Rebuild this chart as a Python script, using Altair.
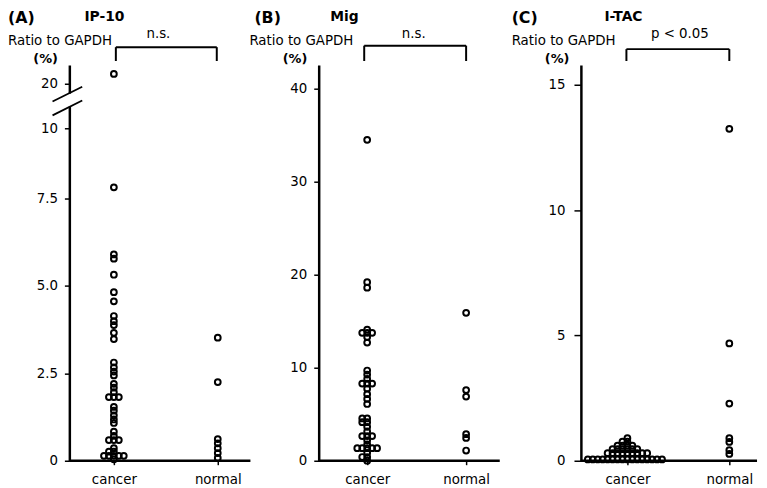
import altair as alt
import numpy as np
import pandas as pd

# ---------------- data ----------------
GROUPS = ["cancer", "normal"]
PANEL_LETTERS = ["(A)", "(B)", "(C)"]
GENES = ["IP-10", "Mig", "I-TAC"]
STATS = ["n.s.", "n.s.", "p < 0.05"]
Y_TITLE = "Ratio to GAPDH"
Y_UNIT = "(%)"

ip10_cancer = [22.2, 7.9, 5.9, 5.78, 5.32, 4.82, 4.56, 4.14, 3.99, 3.88, 3.66, 3.48,
               2.81, 2.67, 2.55, 2.44, 2.2, 2.09, 1.96, 1.82, 1.82, 1.82,
               1.54, 1.43, 1.30, 1.18, 1.08, 0.83, 0.71, 0.59, 0.59, 0.59,
               0.36, 0.26, 0.26, 0.14, 0.14, 0.14, 0.14, 0.14, 0.04]
ip10_normal = [3.52, 2.25, 0.62, 0.5, 0.36, 0.22, 0.08]

mig_cancer = [34.5, 19.2, 18.6, 14.1, 13.75, 13.75, 13.75, 13.3, 12.7,
              9.7, 9.26, 8.8, 8.3, 8.3, 8.3, 7.75, 7.15, 6.65, 6.1,
              4.55, 4.55, 4.15, 4.15, 3.65, 3.15, 2.65, 2.65, 2.65, 2.2, 1.75,
              1.35, 1.35, 1.35, 1.35, 1.35, 0.85, 0.4, 0.4, 0.0]
mig_normal = [15.9, 7.6, 6.9, 2.85, 2.45, 1.1]

itac_cancer = [0.9, 0.76, 0.76, 0.6, 0.6, 0.6, 0.6,
               0.46, 0.46, 0.46, 0.46, 0.46, 0.46,
               0.3, 0.3, 0.3, 0.3, 0.3, 0.3, 0.3, 0.3, 0.3,
               0.05, 0.05, 0.05, 0.05, 0.05, 0.05, 0.05, 0.05,
               0.05, 0.05, 0.05, 0.05, 0.05, 0.05, 0.05, 0.05]
itac_normal = [13.24, 4.68, 2.28, 0.9, 0.75, 0.42, 0.27]

SERIES = [(ip10_cancer, ip10_normal), (mig_cancer, mig_normal), (itac_cancer, itac_normal)]
Y_TICKS = [[0, 2.5, 5, 7.5, 10, 20], [0, 10, 20, 30, 40], [0, 5, 10, 15]]

# ---------------- layout / style ----------------
FONT = "DejaVu Sans"
H = 400
PANEL_W = [183, 196, 178]
SPACING = 69
AXIS_LEN = [183, 183, 178]
CAT_PX = [(45, 150), (49, 149), (47, 150)]
Y_DOMAIN = [[0, 7.5, 10, 20, 24.2], [0, 42.55], [0, 15.79]]
Y_RANGE = [[H, 135, 64, 19, 0], [H, 0], [H, 0]]
TICK_SIZE = [5, 5, 7]
LABEL_PAD = [7, 7, 9]
LETTER_X = [-62, -65, -70]
GENE_X = [35.5, 26, 43]
RATIO_POS = [(-62, "left"), (-17.5, "center"), (-70, "left")]
UNIT_X = [-24, -24, -24]
STAT_X = [90, 96, 100]
BRACKET = [(47, 149, -18), (46, 149, -19.5), (46, 150, -16)]
STEP = [5, 5, 5]
TY = 3.0


def swarm(values, ypix, step, ty):
    placed = []
    offs = [0.0] * len(values)
    order = sorted(range(len(values)), key=lambda i: values[i])
    for i in order:
        y = ypix(values[i])
        k = 0
        found = None
        while found is None:
            cands = [0.0] if k == 0 else [-k * step, k * step]
            for c in cands:
                if all(not (abs(y - py) < ty and abs(c - px) < step * 0.99) for py, px in placed):
                    found = c
                    break
            k += 1
        placed.append((y, found))
        offs[i] = found
    return offs


def one(text, x, y, size=13, bold=False, align="center", baseline="middle"):
    return alt.Chart(pd.DataFrame({"a": [0]})).mark_text(
        text=text, font=FONT, fontSize=size, fontWeight="bold" if bold else "normal",
        align=align, baseline=baseline, color="black"
    ).encode(x=alt.value(x), y=alt.value(y))


def rule(x, y, x2=None, y2=None, color="black", width=2.0):
    enc = {"x": alt.value(x), "y": alt.value(y)}
    if x2 is not None:
        enc["x2"] = alt.value(x2)
    if y2 is not None:
        enc["y2"] = alt.value(y2)
    return alt.Chart(pd.DataFrame({"a": [0]})).mark_rule(color=color, strokeWidth=width).encode(**enc)


panels = []
for p in range(3):
    dom, rng = Y_DOMAIN[p], Y_RANGE[p]
    ypix = lambda v, d=dom, r=rng: float(np.interp(v, d, r))
    cpx, npx = CAT_PX[p]
    unit = npx - cpx
    rows = []
    for gi, vals in enumerate(SERIES[p]):
        offs = swarm(vals, ypix, STEP[p], TY)
        for v, o in zip(vals, offs):
            rows.append({"group": GROUPS[gi], "value": v, "xpos": gi + 1 + o / unit})
    df = pd.DataFrame(rows)

    if p == 0:
        label_expr = ("datum.value == 0 ? '0' : (datum.value >= 10 ? format(datum.value, 'd') "
                      ": format(datum.value, '.1f'))")
    else:
        label_expr = "format(datum.value, 'd')"

    points = alt.Chart(df).mark_point(
        shape="circle", filled=False, color="black", strokeWidth=2, size=34, opacity=1
    ).encode(
        x=alt.X("xpos:Q",
                scale=alt.Scale(domain=[1, 2], range=[cpx, npx], nice=False, zero=False),
                axis=alt.Axis(values=[1, 2], title=None, grid=False, domain=False,
                              labelExpr=f"datum.value == 1 ? '{GROUPS[0]}' : '{GROUPS[1]}'",
                              tickSize=4, tickWidth=1.5, tickColor="black", labelPadding=8,
                              labelFlush=False, labelFont=FONT, labelFontSize=13.5,
                              labelColor="black")),
        y=alt.Y("value:Q",
                scale=alt.Scale(domain=dom, range=rng, nice=False, zero=False),
                axis=alt.Axis(values=Y_TICKS[p], title=None, grid=False, domain=True,
                              domainColor="black", domainWidth=2.5, labelExpr=label_expr,
                              tickSize=TICK_SIZE[p], tickWidth=1.5, tickColor="black",
                              labelPadding=LABEL_PAD[p], labelFlush=False, labelFont=FONT,
                              labelFontSize=13.5, labelColor="black")),
        tooltip=["group:N", "value:Q"],
    )

    bx1, bx2, by = BRACKET[p]
    layers = [
        rule(0, H, x2=AXIS_LEN[p], width=2.5),
        rule(bx1, by, x2=bx2, width=2),
        rule(bx1, by, y2=-4, width=2),
        rule(bx2, by, y2=-4, width=2),
        one(PANEL_LETTERS[p], LETTER_X[p], -55, size=16, bold=True, align="left", baseline="top"),
        one(GENES[p], GENE_X[p], -55, size=14, bold=True, align="center", baseline="top"),
        one(Y_TITLE, RATIO_POS[p][0], -24, size=13.5, align=RATIO_POS[p][1]),
        one(Y_UNIT, UNIT_X[p], -6, size=13, bold=True),
        one(STATS[p], STAT_X[p], -31, size=13.5),
    ]
    if p == 0:
        layers += [
            rule(0, 29, y2=42, color="white", width=6),
            rule(-17, 37, x2=13, y2=22, width=1.8),
            rule(-17, 51, x2=13, y2=36, width=1.8),
        ]
    panel = alt.layer(points, *layers).properties(width=PANEL_W[p], height=H)
    panels.append(panel)

chart = alt.hconcat(*panels, spacing=SPACING, bounds="flush").properties(
    padding=0
).configure_view(strokeWidth=0)

chart.save("out.html", embed_options={"renderer": "svg", "actions": False})
